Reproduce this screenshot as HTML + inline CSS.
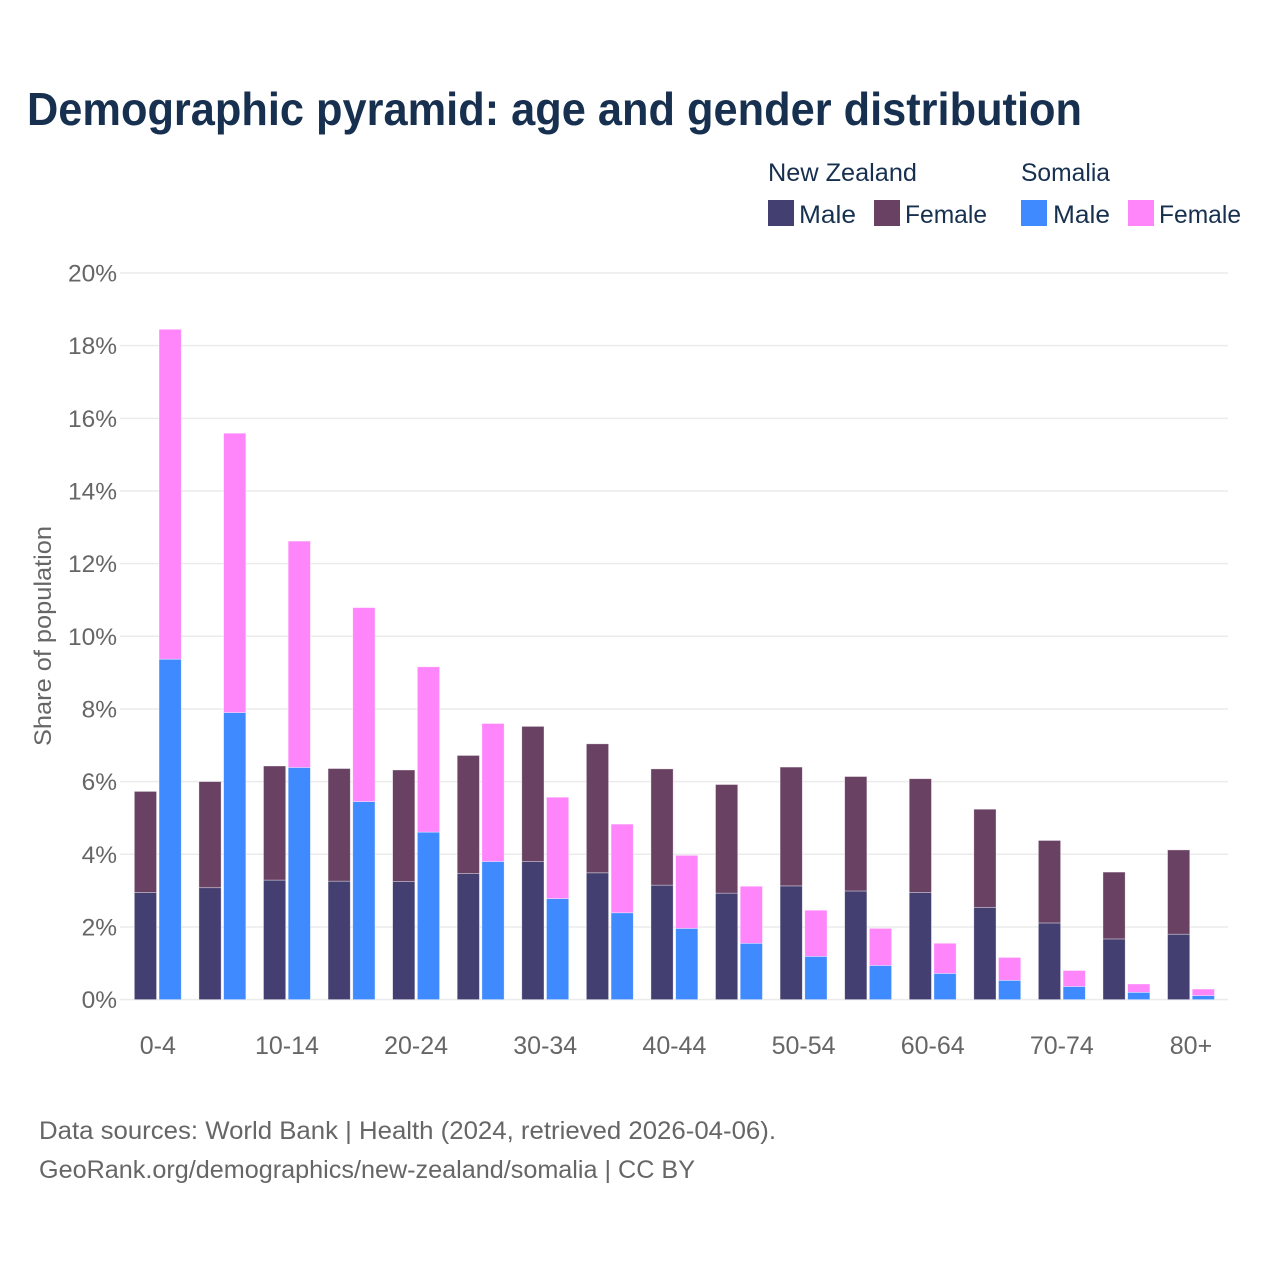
<!DOCTYPE html>
<html lang="en">
<head>
<meta charset="utf-8">
<title>Demographic pyramid: age and gender distribution</title>
<style>
  html, body { margin: 0; padding: 0; background: #ffffff; }
  svg { display: block; font-family: "Liberation Sans", sans-serif; }
</style>
</head>
<body>
<svg id="chart" xmlns="http://www.w3.org/2000/svg" width="1280" height="1280" viewBox="0 0 1280 1280">
  <rect x="0" y="0" width="1280" height="1280" fill="#ffffff"/>
  <text x="27" y="125" font-size="46" font-weight="700" fill="#17304f" textLength="1055" lengthAdjust="spacingAndGlyphs">Demographic pyramid: age and gender distribution</text>

  <g font-size="25" fill="#17304f">
    <text x="768" y="181" textLength="149" lengthAdjust="spacingAndGlyphs">New Zealand</text>
    <text x="1021" y="181" textLength="89" lengthAdjust="spacingAndGlyphs">Somalia</text>
    <rect x="768" y="200" width="26" height="26" fill="#433f70"/>
    <text x="799" y="223" textLength="57" lengthAdjust="spacingAndGlyphs">Male</text>
    <rect x="874" y="200" width="26" height="26" fill="#694263"/>
    <text x="905" y="223" textLength="82" lengthAdjust="spacingAndGlyphs">Female</text>
    <rect x="1021" y="200" width="26" height="26" fill="#3f8aff"/>
    <text x="1053" y="223" textLength="57" lengthAdjust="spacingAndGlyphs">Male</text>
    <rect x="1128" y="200" width="26" height="26" fill="#ff85fb"/>
    <text x="1159" y="223" textLength="82" lengthAdjust="spacingAndGlyphs">Female</text>
  </g>

  <g id="grid"></g>
  <g id="y-axis"></g>
  <g id="bars"></g>
  <g id="x-axis"></g>

  <text transform="translate(51 636) rotate(-90)" text-anchor="middle" font-size="24" fill="#666666" textLength="220" lengthAdjust="spacingAndGlyphs">Share of population</text>

  <text x="39" y="1139" font-size="25" fill="#666666" textLength="737" lengthAdjust="spacingAndGlyphs">Data sources: World Bank | Health (2024, retrieved 2026-04-06).</text>
  <text x="39" y="1178" font-size="25" fill="#666666" textLength="656" lengthAdjust="spacingAndGlyphs">GeoRank.org/demographics/new-zealand/somalia | CC BY</text>
</svg>

<script>
const categories = ["0-4", "5-9", "10-14", "15-19", "20-24", "25-29", "30-34", "35-39", "40-44", "45-49", "50-54", "55-59", "60-64", "65-69", "70-74", "75-79", "80+"];
const nzMale = [2.95, 3.08, 3.29, 3.26, 3.25, 3.47, 3.80, 3.49, 3.15, 2.93, 3.13, 2.99, 2.95, 2.54, 2.11, 1.67, 1.80];
const nzFemale = [2.78, 2.92, 3.14, 3.10, 3.07, 3.25, 3.72, 3.55, 3.20, 2.99, 3.27, 3.15, 3.13, 2.70, 2.27, 1.84, 2.32];
const somaliaMale = [9.37, 7.90, 6.39, 5.45, 4.61, 3.80, 2.78, 2.39, 1.96, 1.55, 1.19, 0.94, 0.72, 0.53, 0.36, 0.20, 0.11];
const somaliaFemale = [9.08, 7.69, 6.23, 5.34, 4.55, 3.80, 2.79, 2.44, 2.01, 1.57, 1.27, 1.02, 0.83, 0.63, 0.44, 0.23, 0.18];
const yTicks = [0, 2, 4, 6, 8, 10, 12, 14, 16, 18, 20];
const yTickLabels = ["0%", "2%", "4%", "6%", "8%", "10%", "12%", "14%", "16%", "18%", "20%"];
const xTickLabels = ["0-4", "", "10-14", "", "20-24", "", "30-34", "", "40-44", "", "50-54", "", "60-64", "", "70-74", "", "80+"];

const NS = "http://www.w3.org/2000/svg";
const plotLeft = 120, plotRight = 1228, plotBottom = 999.6, plotTop = 273;
const firstCenter = 157.8, bandStep = 64.575, barWidth = 22.2, groupGap = 1.25;

function yScale(v) {
  return plotBottom - (v / yTicks[yTicks.length - 1]) * (plotBottom - plotTop);
}
function xCenter(i) {
  return firstCenter + i * bandStep;
}
function slug(s) {
  return s.replace(/[^0-9a-z]+/gi, "-").replace(/-$/, "");
}
function makeSegment(x, base, value, fill) {
  const r = document.createElementNS(NS, "rect");
  const top = yScale(base + value);
  r.setAttribute("x", x);
  r.setAttribute("y", top);
  r.setAttribute("width", barWidth);
  r.setAttribute("height", Math.max(0, yScale(base) - top));
  r.setAttribute("fill", fill);
  r.setAttribute("stroke", "#ffffff");
  r.setAttribute("stroke-opacity", "0.5");
  r.setAttribute("stroke-width", "0.7");
  return r;
}

const grid = document.getElementById("grid");
const yAxis = document.getElementById("y-axis");
yTicks.forEach(function (t, i) {
  const y = yScale(t);
  const line = document.createElementNS(NS, "line");
  
  
  line.setAttribute("x1", plotLeft);
  line.setAttribute("x2", plotRight);
  line.setAttribute("y1", y);
  line.setAttribute("y2", y);
  line.setAttribute("stroke", "#ebebeb");
  line.setAttribute("stroke-width", "1.5");
  grid.appendChild(line);

  const label = document.createElementNS(NS, "text");
  
  
  label.setAttribute("x", 117);
  label.setAttribute("y", y + 8.5);
  label.setAttribute("text-anchor", "end");
  label.setAttribute("font-size", "24.5");
  label.setAttribute("fill", "#666666");
  label.textContent = yTickLabels[i];
  yAxis.appendChild(label);
});

const bars = document.getElementById("bars");
categories.forEach(function (cat, i) {
  const c = xCenter(i);
  const leftX = c - groupGap - barWidth;
  const rightX = c + groupGap;
  const key = slug(cat);

  const a = makeSegment(leftX, 0, nzMale[i], "#433f70");
  
  
  bars.appendChild(a);

  const b = makeSegment(leftX, nzMale[i], nzFemale[i], "#694263");
  
  
  bars.appendChild(b);

  const d = makeSegment(rightX, 0, somaliaMale[i], "#3f8aff");
  
  
  bars.appendChild(d);

  const e = makeSegment(rightX, somaliaMale[i], somaliaFemale[i], "#ff85fb");
  
  
  bars.appendChild(e);
});

const xAxis = document.getElementById("x-axis");
xTickLabels.forEach(function (txt, i) {
  if (!txt) return;
  const label = document.createElementNS(NS, "text");
  
  
  label.setAttribute("x", xCenter(i));
  label.setAttribute("y", 1054);
  label.setAttribute("text-anchor", "middle");
  label.setAttribute("font-size", "25");
  label.setAttribute("fill", "#666666");
  label.textContent = txt;
  xAxis.appendChild(label);
});
</script>
</body>
</html>
